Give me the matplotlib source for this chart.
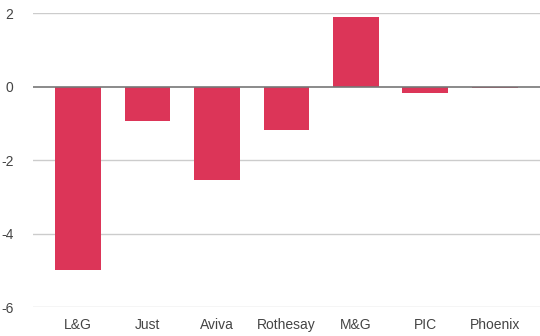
import matplotlib
matplotlib.use("Agg")
import matplotlib.pyplot as plt

categories = ["L&G", "Just", "Aviva", "Rothesay", "M&G", "PIC", "Phoenix"]
values = [-5.0, -0.93, -2.53, -1.17, 1.9, -0.17, -0.05]
yticks = [2, 0, -2, -4, -6]

plt.rcParams['font.family'] = ['Liberation Sans', 'DejaVu Sans']
fig = plt.figure(figsize=(5.4, 3.36), dpi=100)
ax = fig.add_axes([0.061, 0.0863, 0.939, 0.8747])
x = range(len(categories))
ax.bar(x, values, width=0.66, color="#DC3558", zorder=3)
ax.set_xlim(-0.65, len(categories) - 0.35)
ax.set_ylim(-6, 2)
ax.set_yticks(yticks)
ax.set_yticklabels([str(t) for t in yticks])
ax.set_xticks(list(x))
ax.set_xticklabels(categories)
for t in yticks:
    if t != 0:
        ax.axhline(t, color="#cccccc", lw=1, zorder=1)
ax.axhline(0, color="#777777", lw=1.2, zorder=4)
for s in ax.spines.values():
    s.set_visible(False)
ax.tick_params(axis='both', length=0, labelsize=10, colors="#444444")
ax.tick_params(axis='y', pad=14)
ax.tick_params(axis='x', pad=8)
fig.savefig("out.png", dpi=100)
